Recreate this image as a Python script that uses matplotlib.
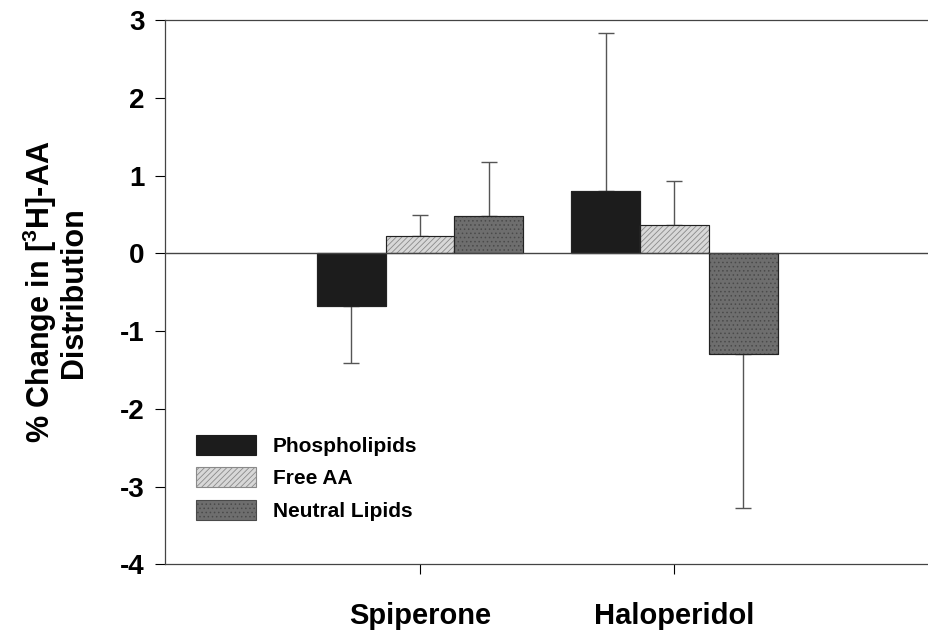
import numpy as np
import matplotlib
matplotlib.use("Agg")
import matplotlib.pyplot as plt

plt.rcParams['font.family'] = ['Liberation Sans', 'DejaVu Sans']
plt.rcParams['hatch.linewidth'] = 0.6
plt.rcParams['axes.unicode_minus'] = False

# data
drugs = ["Spiperone", "Haloperidol"]
series = ["Phospholipids", "Free AA", "Neutral Lipids"]
means = {
    "Phospholipids": [-0.68, 0.80],
    "Free AA": [0.22, 0.37],
    "Neutral Lipids": [0.48, -1.30],
}
errs = {
    "Phospholipids": [0.73, 2.03],
    "Free AA": [0.27, 0.56],
    "Neutral Lipids": [0.69, 1.98],
}

face = {"Phospholipids": "#1c1c1c", "Free AA": "#d8d8d8", "Neutral Lipids": "#6e6e6e"}
hatch = {"Phospholipids": None, "Free AA": "//////", "Neutral Lipids": "...."}
hcol = {"Phospholipids": "#1c1c1c", "Free AA": "#8a8a8a", "Neutral Lipids": "#4a4a4a"}

fig = plt.figure(figsize=(9.29, 6.34), dpi=100)
ax = fig.add_axes([0.178, 0.110, 0.822, 0.858])

x = np.arange(1, len(drugs) + 1)
w = 0.27
for i, s in enumerate(series):
    pos = x + (i - 1) * w
    vals = np.array(means[s])
    e = np.array(errs[s])
    lower = np.where(vals < 0, e, 0)
    upper = np.where(vals >= 0, e, 0)
    ax.bar(pos, vals, w, color=face[s], edgecolor=hcol[s], hatch=hatch[s],
           linewidth=0.8, label=s, zorder=2)
    ax.bar(pos, vals, w, color="none", edgecolor="#222222", linewidth=0.8, zorder=3)
    ax.errorbar(pos, vals, yerr=[lower, upper], fmt="none", ecolor="#555555",
                elinewidth=1.0, capsize=6, capthick=1.0, zorder=1)

ax.axhline(0, color="#444444", linewidth=1.0, zorder=4)
ax.set_xlim(0, 3)
ax.set_ylim(-4, 3)
ax.set_yticks(range(-4, 4))
ax.set_xticks(x)
ax.set_xticklabels(drugs, fontsize=21, fontweight="bold")
ax.tick_params(axis="y", labelsize=20, length=7, width=0.8, direction="out", pad=8)
ax.tick_params(axis="x", length=7, width=0.8, direction="out", pad=20)
for lab in ax.get_yticklabels():
    lab.set_fontweight("bold")
ax.spines["right"].set_visible(False)
for sp in ["left", "top", "bottom"]:
    ax.spines[sp].set_linewidth(0.9)
    ax.spines[sp].set_color("#444444")

ax.set_ylabel("% Change in [$\\mathregular{^3}$H]-AA\nDistribution",
              fontsize=22, fontweight="bold", labelpad=22, linespacing=1.0)

leg = ax.legend(loc="lower left", bbox_to_anchor=(0.015, 0.045), frameon=False,
                fontsize=15, handlelength=2.9, handleheight=1.1,
                labelspacing=0.55, handletextpad=0.8)
for t in leg.get_texts():
    t.set_fontweight("bold")

fig.savefig("out.png", dpi=100)
